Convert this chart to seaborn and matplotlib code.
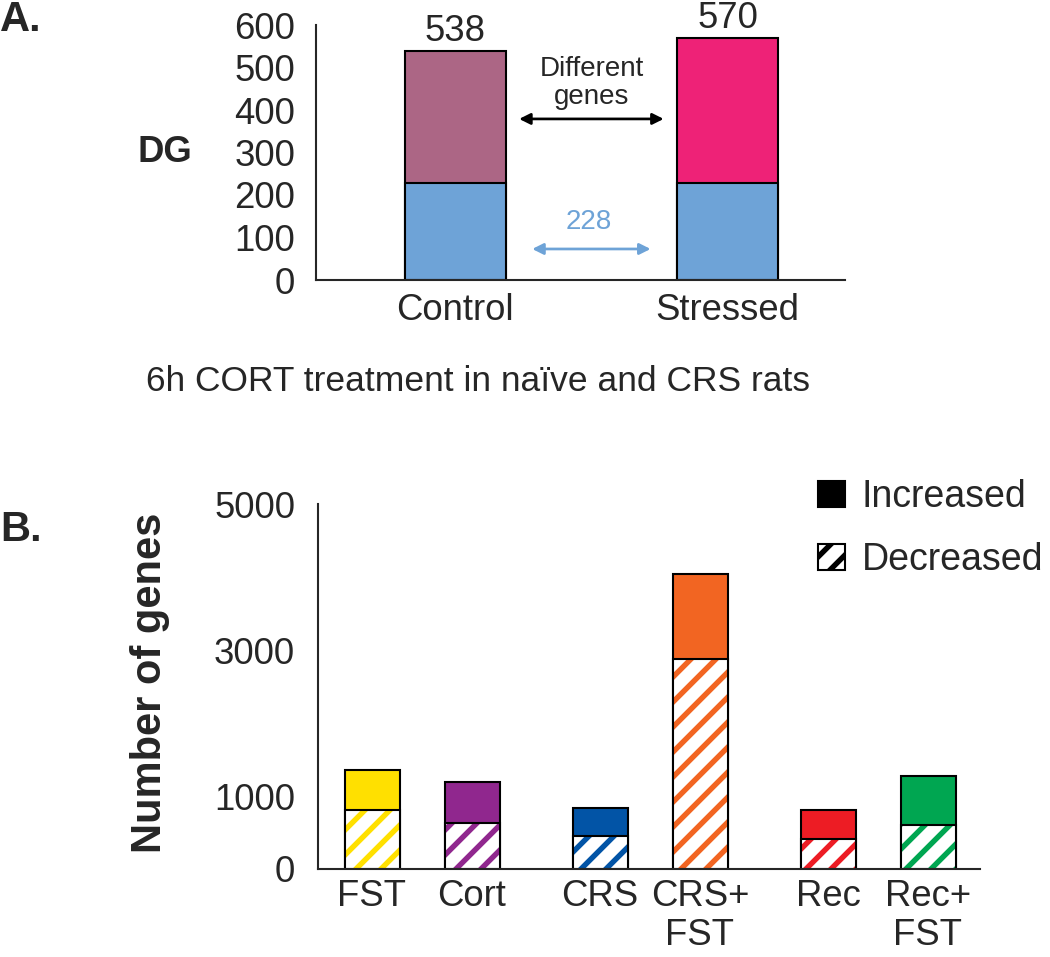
"""
Two-panel gene count figure: DG overlap (A) and stacked up/down counts (B)
"""
import matplotlib
matplotlib.use("Agg")
import matplotlib.pyplot as plt
import seaborn as sns
import numpy as np
from matplotlib.patches import Patch

# Panel A data
groups_a = ["Control", "Stressed"]
totals_a = [538, 570]
shared_a = [228, 228]
colors_a = ["#AC6685", "#EE2277"]
shared_color = "#6EA3D7"

# Panel B data
labels_b = ["FST", "Cort", "CRS", "CRS+\nFST", "Rec", "Rec+\nFST"]
decreased_b = [815, 625, 448, 2880, 408, 598]
increased_b = [544, 571, 381, 1155, 394, 679]
colors_b = ["#FFE000", "#90278E", "#0254A6", "#F26522", "#ED1C24", "#00A651"]

# Set style
sns.set_style("ticks")
plt.rcParams['font.family'] = ['Liberation Sans', 'DejaVu Sans']
plt.rcParams['hatch.linewidth'] = 2.6
plt.rcParams['axes.linewidth'] = 1.0

FS = 17.5
W, H = 1050, 957
fig = plt.figure(figsize=(7.0, 6.38), dpi=150)

# ---------------- Panel A ----------------
axA = fig.add_axes([316 / W, 1 - 280 / H, (845 - 316) / W, (280 - 25) / H])
sns.barplot(x=groups_a, y=totals_a, order=groups_a, color="white", width=0.37,
            edgecolor="black", linewidth=1.0, errorbar=None, ax=axA)
for patch, c in zip(axA.patches, colors_a):
    patch.set_facecolor(c)
n = len(axA.patches)
sns.barplot(x=groups_a, y=shared_a, order=groups_a, color=shared_color, width=0.37,
            edgecolor="black", linewidth=1.0, errorbar=None, ax=axA)
for patch in axA.patches[n:]:
    patch.set_facecolor(shared_color)

axA.bar_label(axA.containers[0], fontsize=FS, padding=1)
axA.set_xlim(-0.51, 1.43)
axA.set_ylim(0, 600)
axA.set_yticks(range(0, 601, 100))
axA.tick_params(axis='both', length=0, labelsize=FS)
axA.tick_params(axis='y', pad=10)
axA.tick_params(axis='x', pad=6)
axA.set_xlabel("")
sns.despine(ax=axA)

axA.annotate("", xy=(0.235, 379), xytext=(0.765, 379),
             arrowprops=dict(arrowstyle="<|-|>", color="black", lw=1.3,
                             mutation_scale=11, shrinkA=0, shrinkB=0))
axA.text(0.5, 463, "Different\ngenes", ha="center", va="center",
         fontsize=13.3, linespacing=1.1)
axA.annotate("", xy=(0.283, 73), xytext=(0.717, 73),
             arrowprops=dict(arrowstyle="<|-|>", color=shared_color, lw=1.3,
                             mutation_scale=11, shrinkA=0, shrinkB=0))
axA.text(0.49, 136, str(shared_a[0]), ha="center", va="center",
         fontsize=13.3, color=shared_color)

fig.text(0.0, 1 - 20 / H, "A.", ha="left", va="center", fontsize=20, fontweight="bold")
fig.text(165 / W, 1 - 152 / H, "DG", ha="center", va="center", fontsize=17.5,
         fontweight="bold")
fig.text(478 / W, 1 - 382 / H, "6h CORT treatment in naïve and CRS rats",
         ha="center", va="center", fontsize=17)

# ---------------- Panel B ----------------
axB = fig.add_axes([318 / W, 1 - 869 / H, (980 - 318) / W, (869 - 504) / H])
idx = np.arange(len(labels_b))
pos_b = idx + 0.28 * (idx // 2)
totals_b = np.array(decreased_b) + np.array(increased_b)

sns.barplot(x=pos_b, y=totals_b, native_scale=True, color="white", width=0.55,
            edgecolor="black", linewidth=1.0, errorbar=None, ax=axB)
for patch, c in zip(axB.patches, colors_b):
    patch.set_facecolor(c)

n = len(axB.patches)
sns.barplot(x=pos_b, y=decreased_b, native_scale=True, color="white", width=0.55,
            linewidth=0, errorbar=None, ax=axB)
for patch, c in zip(axB.patches[n:], colors_b):
    patch.set_facecolor("white")
    patch.set_edgecolor(c)
    patch.set_hatch("//")
    patch.set_linewidth(0)

n = len(axB.patches)
sns.barplot(x=pos_b, y=decreased_b, native_scale=True, color="white", width=0.55,
            linewidth=1.0, errorbar=None, ax=axB)
for patch in axB.patches[n:]:
    patch.set_facecolor("none")
    patch.set_edgecolor("black")
    patch.set_linewidth(1.0)

axB.set_xticks(pos_b, labels_b)
axB.set_xlim(-0.54, 6.08)
axB.set_ylim(0, 5000)
axB.set_yticks([0, 1000, 3000, 5000])
axB.tick_params(axis='both', length=0, labelsize=FS)
axB.tick_params(axis='y', pad=11)
axB.tick_params(axis='x', pad=5)
for t in axB.get_xticklabels():
    t.set_linespacing(1.15)
    t.set_va("top")
axB.set_xlabel("")
sns.despine(ax=axB)

fig.text(150 / W, 1 - 683 / H, "Number of genes", rotation=90, ha="center",
         va="center", fontsize=20, fontweight="bold")
fig.text(0.0, 1 - 530 / H, "B.", ha="left", va="center", fontsize=20, fontweight="bold")

handles = [Patch(facecolor="black", edgecolor="black", linewidth=1.0),
           Patch(facecolor="white", edgecolor="black", hatch="//", linewidth=1.0)]
fig.legend(handles, ["Increased", "Decreased"], loc="upper left",
           bbox_to_anchor=(818 / W, 1 - 479 / H), frameon=False, fontsize=18,
           handlelength=0.72, handleheight=0.72, handletextpad=0.45,
           labelspacing=0.72, borderaxespad=0, borderpad=0)

fig.savefig("out.png", dpi=150)
